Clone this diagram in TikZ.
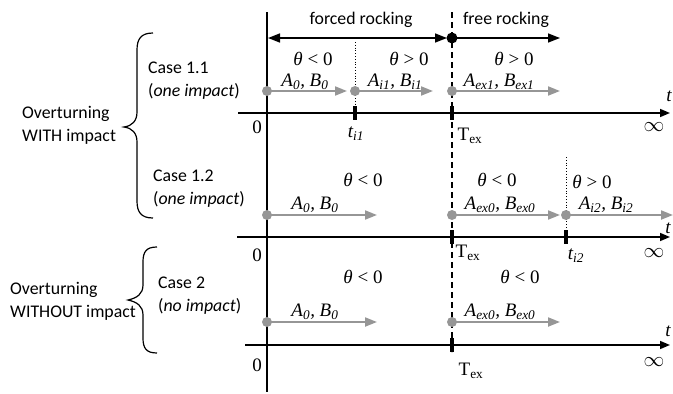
\documentclass[tikz,border=0pt]{standalone}
\usepackage{fontspec}
\setmainfont{Carlito}
\newfontfamily\tms{Liberation Serif}
\usetikzlibrary{arrows.meta}
\definecolor{gr}{RGB}{150,150,150}
\newcommand{\thl}[2]{{\tms\itshape θ\upshape\ #1\ #2}}
\newcommand{\AB}[2]{{\tms\itshape A\textsubscript{#1}, B\textsubscript{#2}}}
\newcommand{\Tex}{{\tms T\textsubscript{ex}}}
\begin{document}
\begin{tikzpicture}[x=1pt,y=-1pt,
  sans/.style={font=\fontsize{17.8}{23}\selectfont, inner sep=0pt},
  ser/.style={font=\fontsize{19}{22}\tms, inner sep=0pt},
  infty/.style={font=\fontsize{21}{22}\selectfont, inner sep=0pt},
  axisline/.style={line width=1.5pt, -{Triangle[length=10pt,width=8pt]}},
  tickmark/.style={line width=4pt},
  garr/.style={draw=gr, line width=2pt, -{Triangle[length=12pt,width=9pt]}},
  gdot/.style={circle, fill=gr, inner sep=0pt, minimum size=10pt},
  bdot/.style={circle, fill=black, inner sep=0pt, minimum size=11pt},
  brace/.style={line width=1.2pt},
]
\useasboundingbox (0,0) rectangle (673,394);

% main vertical and dashed separator
\coordinate (v0) at (267,12); \coordinate (v1) at (267,392);
\draw[line width=1.3pt] (v0) -- (v1);
\coordinate (d0) at (452,12); \coordinate (d1) at (452,352);
\draw[line width=1.2pt, dash pattern=on 6pt off 4pt] (d0) -- (d1);

% top arrows
\coordinate (ta) at (268,38); \coordinate (tb) at (447,38);
\node[bdot] (tdot) at (452,38) {};
\coordinate (tc) at (560,38);
\draw[line width=1.5pt, {Triangle[length=12pt,width=9pt]}-{Triangle[length=12pt,width=9pt]}] (ta) -- (tb);
\draw[line width=1.5pt, -{Triangle[length=12pt,width=9pt]}] (tdot.center) -- (tc);
\node[sans] (forced) at (361,20) {forced rocking};
\node[sans] (free) at (506,20) {free rocking};

% dotted lines
\coordinate (p1a) at (355,42); \coordinate (p1b) at (355,112);
\draw[line width=0.8pt, dotted] (p1a) -- (p1b);
\coordinate (p2a) at (566,157); \coordinate (p2b) at (566,237);
\draw[line width=0.8pt, dotted] (p2a) -- (p2b);

% axes
\coordinate (a1s) at (238,113); \coordinate (a1e) at (670,113);
\draw[axisline] (a1s) -- (a1e);
\coordinate (a2s) at (237,237); \coordinate (a2e) at (670,237);
\draw[axisline] (a2s) -- (a2e);
\coordinate (a3s) at (245,345); \coordinate (a3e) at (670,345);
\draw[axisline] (a3s) -- (a3e);

% ticks
\coordinate (k1a) at (355,106); \coordinate (k1b) at (355,120);
\draw[tickmark] (k1a) -- (k1b);
\coordinate (k2a) at (452,106); \coordinate (k2b) at (452,120);
\draw[tickmark] (k2a) -- (k2b);
\coordinate (k3a) at (452,230); \coordinate (k3b) at (452,244);
\draw[tickmark] (k3a) -- (k3b);
\coordinate (k4a) at (566,230); \coordinate (k4b) at (566,244);
\draw[tickmark] (k4a) -- (k4b);
\coordinate (k5a) at (452,338); \coordinate (k5b) at (452,352);
\draw[tickmark] (k5a) -- (k5b);

% gray arrows row 1
\coordinate (r1a) at (267,91); \coordinate (r1ae) at (347,91);
\coordinate (r1b) at (355,91); \coordinate (r1be) at (433,91);
\coordinate (r1c) at (452,91); \coordinate (r1ce) at (560,91);
\draw[garr] (r1a) -- (r1ae); \draw[garr] (r1b) -- (r1be); \draw[garr] (r1c) -- (r1ce);
\node[gdot] (g1a) at (r1a) {}; \node[gdot] (g1b) at (r1b) {}; \node[gdot] (g1c) at (r1c) {};

% gray arrows row 2
\coordinate (r2a) at (267,215); \coordinate (r2ae) at (377,215);
\coordinate (r2b) at (452,215); \coordinate (r2be) at (560,215);
\coordinate (r2c) at (566,215); \coordinate (r2ce) at (673,215);
\draw[garr] (r2a) -- (r2ae); \draw[garr] (r2b) -- (r2be); \draw[garr] (r2c) -- (r2ce);
\node[gdot] (g2a) at (r2a) {}; \node[gdot] (g2b) at (r2b) {}; \node[gdot] (g2c) at (r2c) {};

% gray arrows row 3
\coordinate (r3a) at (267,322); \coordinate (r3ae) at (377,322);
\coordinate (r3b) at (452,322); \coordinate (r3be) at (560,322);
\draw[garr] (r3a) -- (r3ae); \draw[garr] (r3b) -- (r3be);
\node[gdot] (g3a) at (r3a) {}; \node[gdot] (g3b) at (r3b) {};

% case 1.1 labels
\node[ser] (th11a) at (313,59) {\thl{<}{0}};
\node[ser] (th11b) at (409,59) {\thl{>}{0}};
\node[ser] (th11c) at (514,59) {\thl{>}{0}};
\node[ser] (ab11a) at (305,82) {\AB{0}{0}};
\node[ser] (ab11b) at (395,82) {\AB{i1}{i1}};
\node[ser] (ab11c) at (499,82) {\AB{ex1}{ex1}};
\node[ser] (t1) at (669,96) {\itshape t};
\node[ser] (z1) at (257,127) {0};
\node[ser] (ti1) at (356,134) {\itshape t\textsubscript{i1}};
\node[ser] (tex1) at (470,136) {\Tex};
\node[infty] (inf1) at (654,127) {$\infty$};

% case 1.2 labels
\node[ser] (th12a) at (363,180) {\thl{<}{0}};
\node[ser] (th12b) at (497,180) {\thl{<}{0}};
\node[ser] (th12c) at (592,182) {\thl{>}{0}};
\node[ser] (ab12a) at (315,205) {\AB{0}{0}};
\node[ser] (ab12b) at (500,205) {\AB{ex0}{ex0}};
\node[ser] (ab12c) at (606,205) {\AB{i2}{i2}};
\node[ser] (t2) at (668,228) {\itshape t};
\node[ser] (z2) at (257,255) {0};
\node[ser] (tex2) at (468,253) {\Tex};
\node[ser] (ti2) at (576,256) {\itshape t\textsubscript{i2}};
\node[infty] (inf2) at (654,253) {$\infty$};

% case 2 labels
\node[ser] (th2a) at (363,277) {\thl{<}{0}};
\node[ser] (th2b) at (520,277) {\thl{<}{0}};
\node[ser] (ab2a) at (315,312) {\AB{0}{0}};
\node[ser] (ab2b) at (500,312) {\AB{ex0}{ex0}};
\node[ser] (t3) at (668,331) {\itshape t};
\node[ser] (z3) at (257,365) {0};
\node[ser] (tex3) at (471,371) {\Tex};
\node[infty] (inf3) at (654,362) {$\infty$};

% left texts
\node[sans, anchor=west, align=left] (ow) at (22,125) {Overturning\\WITH impact};
\node[sans, anchor=west, align=left] (c11) at (148,81) {Case 1.1\\(\textit{one impact})};
\node[sans, anchor=west, align=left] (c12) at (153,189) {Case 1.2\\(\textit{one impact})};
\node[sans, anchor=west, align=left] (c2) at (158,296) {Case 2\\(\textit{no impact})};
\node[sans, anchor=west, align=left] (owo) at (10,301) {Overturning\\WITHOUT impact};

% braces
\draw[brace] (153,33) .. controls (141,33) and (137,39) .. (137,50) -- (137,112)
  .. controls (137,121) and (132,126) .. (124,127)
  .. controls (132,128) and (137,133) .. (137,142) -- (137,201)
  .. controls (137,212) and (141,218) .. (153,218);
\draw[brace] (157,247) .. controls (146,247) and (143,252) .. (143,262) -- (143,285)
  .. controls (143,294) and (137,298) .. (128,300)
  .. controls (137,302) and (143,306) .. (143,315) -- (143,338)
  .. controls (143,348) and (146,353) .. (157,353);
\end{tikzpicture}
\end{document}
